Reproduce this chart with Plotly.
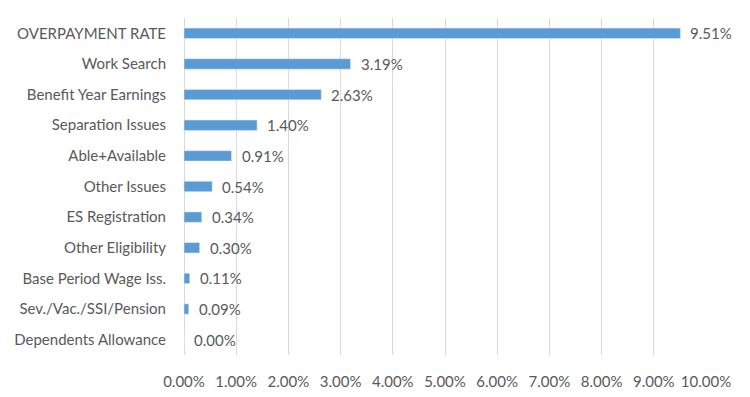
import plotly.graph_objects as go

categories = ["OVERPAYMENT RATE", "Work Search", "Benefit Year Earnings", "Separation Issues",
              "Able+Available", "Other Issues", "ES Registration", "Other Eligibility",
              "Base Period Wage Iss.", "Sev./Vac./SSI/Pension", "Dependents Allowance"]
values = [9.51, 3.19, 2.63, 1.40, 0.91, 0.54, 0.34, 0.30, 0.11, 0.09, 0.00]
tick_vals = [0, 1, 2, 3, 4, 5, 6, 7, 8, 9, 10]
tick_text = [f"{v:.2f}%" for v in tick_vals]

FONT = "Lato"
GRAY = "#595959"

fig = go.Figure(go.Bar(
    x=values, y=categories, orientation="h",
    marker=dict(color="#5B9BD5"),
    width=0.34,
    cliponaxis=False,
))

for c, v in zip(categories, values):
    fig.add_annotation(x=v, y=c, text=f"{v:.2f}%", showarrow=False,
                       xanchor="left", yanchor="middle", xshift=8,
                       font=dict(family=FONT, size=15, color=GRAY))

fig.update_layout(
    width=750, height=397,
    margin=dict(l=176, r=52, t=10, b=50, autoexpand=False),
    plot_bgcolor="white", paper_bgcolor="white",
    font=dict(family=FONT, size=15, color=GRAY),
    showlegend=False,
    xaxis=dict(range=[0, 10], tickvals=tick_vals, ticktext=tick_text,
               showgrid=True, gridcolor="#D9D9D9", gridwidth=1,
               zeroline=True, zerolinecolor="#D9D9D9", zerolinewidth=1,
               showline=False, ticks="", ticklabelstandoff=16, automargin=False,
               tickfont=dict(family=FONT, size=15, color=GRAY)),
    yaxis=dict(autorange="reversed", showgrid=False, showline=False, ticks="",
               ticklabelstandoff=17, automargin=False,
               tickfont=dict(family=FONT, size=15, color=GRAY)),
)

fig.write_html("out.html")
